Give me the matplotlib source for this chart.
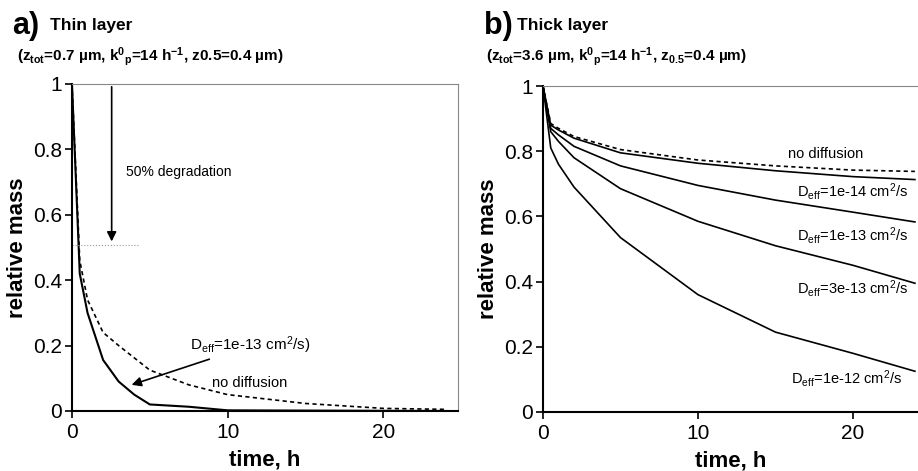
import matplotlib
matplotlib.use("Agg")
import matplotlib.pyplot as plt
import numpy as np

plt.rcParams['font.family'] = ['Liberation Sans', 'DejaVu Sans']
plt.rcParams['mathtext.fontset'] = 'custom'
plt.rcParams['mathtext.rm'] = 'Liberation Sans'
plt.rcParams['mathtext.it'] = 'Liberation Sans:italic'
plt.rcParams['mathtext.bf'] = 'Liberation Sans:bold'

# panel a) thin layer
t_thin = [0, 0.5, 1, 2, 3, 4, 5, 7.5, 10, 24]
m_thin_deff = [1, 0.42, 0.30, 0.156, 0.09, 0.05, 0.02, 0.013, 0.002, 0.0]
t_thin_nd = [0, 0.5, 1, 2, 3, 5, 7.5, 10, 15, 20, 24]
m_thin_nd = [1, 0.46, 0.34, 0.24, 0.20, 0.125, 0.08, 0.05, 0.023, 0.008, 0.005]

# panel b) thick layer
t_thick = [0, 0.5, 1, 2, 5, 10, 15, 20, 24]
m_thick_nd = [1, 0.885, 0.87, 0.845, 0.805, 0.773, 0.755, 0.742, 0.738]
m_thick_1e14 = [1, 0.88, 0.865, 0.84, 0.795, 0.763, 0.74, 0.722, 0.713]
m_thick_1e13 = [1, 0.87, 0.85, 0.815, 0.755, 0.695, 0.65, 0.613, 0.583]
m_thick_3e13 = [1, 0.86, 0.83, 0.78, 0.685, 0.585, 0.51, 0.45, 0.395]
m_thick_1e12 = [1, 0.81, 0.76, 0.69, 0.535, 0.36, 0.245, 0.18, 0.125]

yticks = [0, 0.2, 0.4, 0.6, 0.8, 1]
ytick_labels = ['0', '0.2', '0.4', '0.6', '0.8', '1']
xticks = [0, 10, 20]

fig = plt.figure(figsize=(9.18, 4.71), dpi=100)
ax1 = fig.add_axes([0.0784, 0.1274, 0.4206, 0.6943])
ax2 = fig.add_axes([0.5915, 0.1253, 0.4085, 0.6921])


def style(ax, xmax):
    ax.set_xlim(0, xmax)
    ax.set_ylim(0, 1)
    ax.set_yticks(yticks)
    ax.set_yticklabels(ytick_labels)
    ax.set_xticks(xticks)
    ax.tick_params(direction='out', length=5, width=1.2, labelsize=15, pad=2)
    ax.tick_params(axis='x', pad=4)
    for s in ['left', 'bottom']:
        ax.spines[s].set_linewidth(1.5)
    for s in ['top', 'right']:
        ax.spines[s].set_linewidth(0.8)
        ax.spines[s].set_color('#888888')
    ax.set_xlabel('time, h', fontsize=16, fontweight='bold', labelpad=5)
    ax.set_ylabel('relative mass', fontsize=16, fontweight='bold', labelpad=4)


style(ax1, 24.8)
style(ax2, 24.2)
ax2.spines['right'].set_visible(False)

deff = r'D$_{\mathrm{eff}}$'
dash = (0, (2.5, 2))

# panel a
ax1.plot(t_thin, m_thin_deff, color='black', lw=1.5)
ax1.plot(t_thin_nd, m_thin_nd, color='black', lw=1.2, ls=dash)
ax1.plot([0, 4.3], [0.507, 0.507], color='#999999', lw=0.8, ls=':')
ax1.annotate('', xy=(2.55, 0.51), xytext=(2.55, 1.0),
             arrowprops=dict(arrowstyle='-|>', color='black', lw=1.2, mutation_scale=14))
ax1.text(3.5, 0.73, '50% degradation', fontsize=10, va='center')
ax1.annotate(deff + r'=1e-13 cm$^2$/s)', xy=(3.83, 0.08), xytext=(7.6, 0.2),
             fontsize=11, va='center',
             arrowprops=dict(arrowstyle='-|>', color='black', lw=1.2, mutation_scale=14,
                             shrinkA=0, shrinkB=0))
ax1.text(9.0, 0.087, 'no diffusion', fontsize=10.5, va='center')

# panel b
ax2.plot(t_thick, m_thick_nd, color='black', lw=1.2, ls=dash)
ax2.plot(t_thick, m_thick_1e14, color='black', lw=1.2)
ax2.plot(t_thick, m_thick_1e13, color='black', lw=1.2)
ax2.plot(t_thick, m_thick_3e13, color='black', lw=1.2)
ax2.plot(t_thick, m_thick_1e12, color='black', lw=1.2)
ax2.text(15.8, 0.79, 'no diffusion', fontsize=10.5, va='center', clip_on=False)
ax2.text(16.4, 0.675, deff + r'=1e-14 cm$^2$/s', fontsize=10.5, va='center', clip_on=False)
ax2.text(16.4, 0.542, deff + r'=1e-13 cm$^2$/s', fontsize=10.5, va='center', clip_on=False)
ax2.text(16.4, 0.379, deff + r'=3e-13 cm$^2$/s', fontsize=10.5, va='center', clip_on=False)
ax2.text(16.0, 0.102, deff + r'=1e-12 cm$^2$/s', fontsize=10.5, va='center', clip_on=False)

# titles
fig.text(0.013, 0.945, 'a)', fontsize=22, fontweight='bold', va='center')
fig.text(0.054, 0.945, 'Thin layer', fontsize=12.5, fontweight='bold', va='center')
fig.text(0.018, 0.880,
         r'(z$_{\mathbf{tot}}$=0.7 µm, k$^{\mathbf{0}}$$_{\mathbf{p}}$=14 h$^{\mathbf{-1}}$, z0.5=0.4 µm)',
         fontsize=11, fontweight='bold', va='center')
fig.text(0.527, 0.945, 'b)', fontsize=22, fontweight='bold', va='center')
fig.text(0.563, 0.945, 'Thick layer', fontsize=12.5, fontweight='bold', va='center')
fig.text(0.529, 0.880,
         r'(z$_{\mathbf{tot}}$=3.6 µm, k$^{\mathbf{0}}$$_{\mathbf{p}}$=14 h$^{\mathbf{-1}}$, z$_{\mathbf{0.5}}$=0.4 µm)',
         fontsize=11, fontweight='bold', va='center')

plt.savefig('out.png', dpi=100)
